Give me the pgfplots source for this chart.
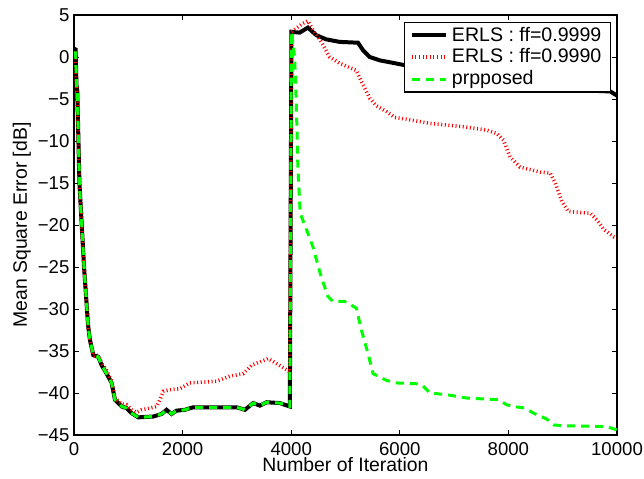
\documentclass[border=0pt]{standalone}
\usepackage{fontspec}
\setmainfont{Liberation Sans}
\usepackage{pgfplots}
\pgfplotsset{compat=1.18}
\begin{document}
\fontsize{9.3}{11}\selectfont
\begin{tikzpicture}
\useasboundingbox (-37pt,-21.5pt) rectangle (285pt,217.5pt);
\begin{axis}[
  at={(0,0)}, anchor=south west,
  width=271.5pt, height=210pt, scale only axis,
  xmin=0, xmax=10000, ymin=-45, ymax=5,
  xtick={0,2000,4000,6000,8000,10000},
  ytick={-45,-40,-35,-30,-25,-20,-15,-10,-5,0,5},
  yticklabels={−45,−40,−35,−30,−25,−20,−15,−10,−5,0,5},
  /pgf/number format/1000 sep={},
  /pgf/number format/assume math mode=true,
  scaled x ticks=false,
  tick align=inside, tick pos=both,
  major tick length=2.5pt,
  every tick/.style={black, line width=0.5pt},
  axis line style={line width=0.6pt},
  xticklabel style={font=\fontsize{9.3}{11}\selectfont, yshift=-0.5pt},
  yticklabel style={font=\fontsize{9.3}{11}\selectfont, xshift=1pt},
  xlabel={Number of Iteration},
  ylabel={Mean Square Error [dB]},
  xlabel style={font=\fontsize{9.7}{11}\selectfont, at={(axis description cs:0.5,-0.0714)}, anchor=center},
  ylabel style={font=\fontsize{9.7}{11}\selectfont, at={(axis description cs:-0.096,0.5)}, anchor=center},
  legend style={at={(rel axis cs:1,1)}, anchor=north east, xshift=-3pt, yshift=-3.5pt,
    draw=black, line width=0.6pt, font=\fontsize{9.8}{11}\selectfont,
    inner xsep=2.5pt, inner ysep=1pt,
    nodes={inner xsep=2pt, inner ysep=1.2pt}},
  legend cell align=left,
]
\addplot[black, line width=2pt] coordinates {
(0,1.0)(30,0.9)(45,-3.3)(60,-4)(100,-15)(185,-25)(260,-32)(294,-33.7)(356,-35.5)(448,-35.7)(509,-36.7)(601,-37.7)(693,-38.8)(754,-40.8)(877,-41.6)(969,-41.8)(1061,-42.4)(1184,-42.9)(1460,-42.8)(1613,-42.5)(1705,-42.0)(1797,-42.5)(1889,-42.1)(2042,-42.0)(2196,-41.7)(2993,-41.7)(3147,-42.0)(3300,-41.2)(3423,-41.5)(3546,-41.1)(3791,-41.2)(3975,-41.6)(4005,3.0)(4154,2.9)(4308,3.5)(4462,2.6)(4646,2.1)(4892,1.8)(5231,1.7)(5323,0.8)(5446,0.0)(5631,-0.4)(5877,-0.7)(6500,-1.5)(7000,-2.1)(7500,-2.7)(8000,-3.2)(8500,-3.6)(9046,-3.9)(9877,-4.1)(10000,-4.6)
};
\addlegendentry{ERLS : ff=0.9999}
\addplot[red, line width=1.8pt, dash pattern=on 0.5pt off 1.3pt] coordinates {
(0,0.5)(30,0.5)(45,-3)(60,-5)(100,-15)(185,-25)(260,-32)(294,-33.7)(356,-35.6)(448,-35.5)(509,-36.5)(601,-37.3)(693,-38.6)(754,-40.6)(877,-41.3)(969,-41.4)(1061,-42.0)(1150,-42.3)(1245,-42.0)(1398,-41.8)(1521,-41.6)(1582,-40.8)(1644,-39.8)(1766,-39.6)(1950,-39.5)(2134,-38.8)(2380,-38.7)(2625,-38.6)(2870,-38.0)(3115,-37.7)(3270,-36.7)(3423,-36.3)(3576,-35.9)(3730,-36.5)(3883,-37.1)(3975,-37.5)(4005,3.0)(4215,4.0)(4308,4.3)(4400,3.2)(4554,1.8)(4708,0.0)(4892,-0.75)(5200,-1.6)(5292,-2.9)(5446,-4.9)(5569,-5.8)(5754,-6.5)(5908,-7.2)(6123,-7.4)(6554,-7.9)(7169,-8.3)(7600,-8.7)(7785,-9.1)(7908,-9.9)(8031,-11.9)(8215,-13.1)(8585,-13.7)(8769,-13.8)(8862,-15.0)(8985,-17.2)(9108,-18.4)(9508,-18.6)(9631,-19.4)(9754,-20.5)(9938,-21.4)(10000,-21.5)
};
\addlegendentry{ERLS : ff=0.9990}
\addplot[color={rgb,1:red,0;green,1;blue,0}, line width=1.5pt, dash pattern=on 4pt off 3pt] coordinates {
(0,0.5)(30,0.5)(45,-3.3)(60,-4)(100,-15)(185,-25)(260,-32)(294,-33.7)(356,-35.5)(448,-35.7)(509,-36.7)(601,-37.7)(693,-38.8)(754,-40.8)(877,-41.6)(969,-41.8)(1061,-42.4)(1184,-42.9)(1460,-42.8)(1613,-42.5)(1705,-42.0)(1797,-42.5)(1889,-42.1)(2042,-42.0)(2196,-41.7)(2993,-41.7)(3147,-42.0)(3300,-41.2)(3423,-41.5)(3546,-41.1)(3791,-41.2)(3975,-41.6)(4005,3.0)(4062,0.0)(4092,-5.1)(4123,-13.1)(4166,-18.6)(4308,-21.0)(4400,-22.6)(4554,-26.2)(4677,-28.5)(4769,-29.1)(4985,-29.1)(5200,-29.9)(5292,-32.5)(5415,-35.3)(5508,-37.7)(5754,-38.5)(5938,-38.8)(6308,-38.9)(6400,-39.0)(6554,-40.0)(6862,-40.2)(7231,-40.6)(7815,-40.8)(7969,-41.4)(8092,-41.6)(8308,-41.8)(8462,-42.4)(8708,-43.1)(8831,-43.8)(9015,-43.9)(9815,-44.0)(10000,-44.4)
};
\addlegendentry{prpposed}
\end{axis}
\end{tikzpicture}
\end{document}
